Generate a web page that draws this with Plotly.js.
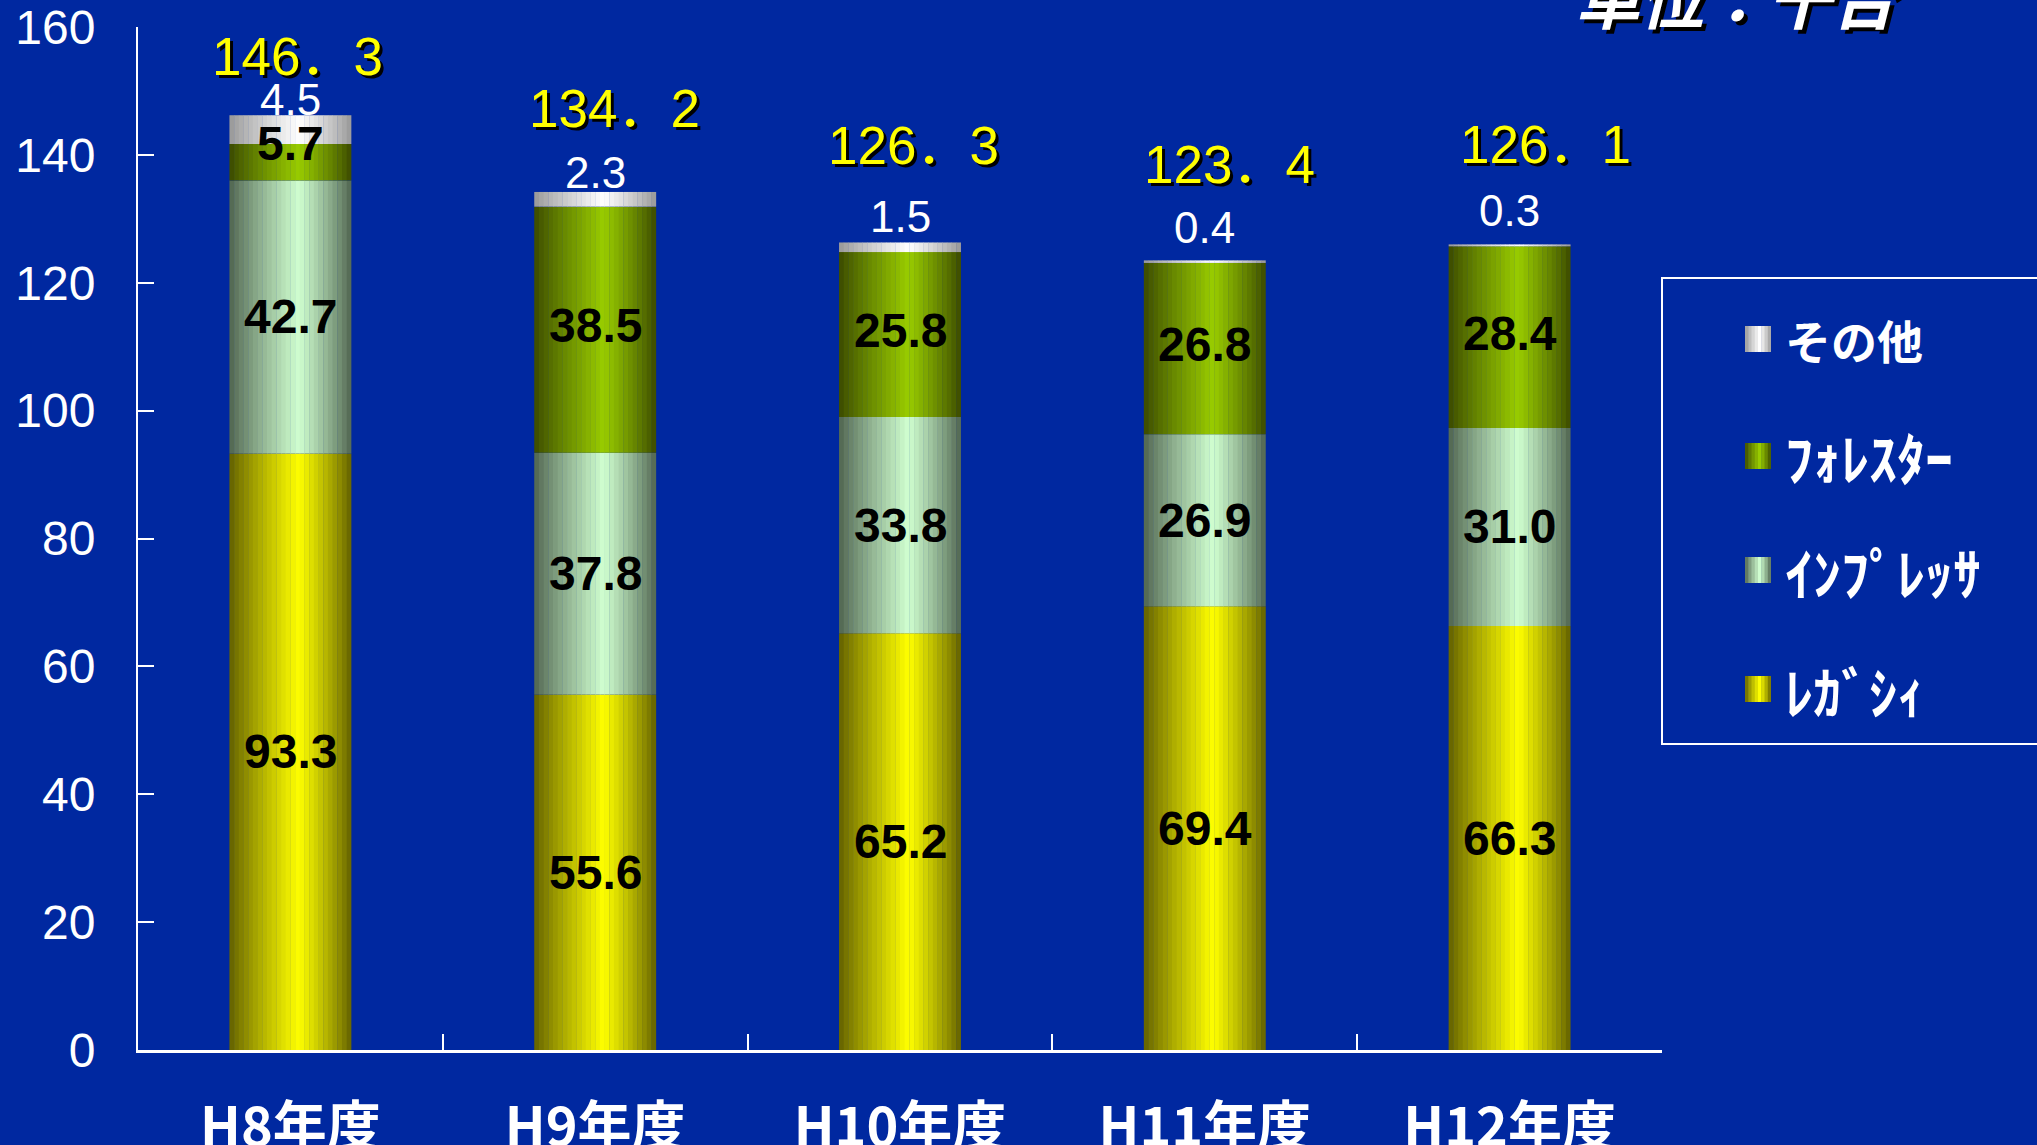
<!DOCTYPE html>
<html>
<head>
<meta charset="utf-8">
<script src="https://cdn.plot.ly/plotly-3.0.1.min.js"></script>
<style>
html,body{margin:0;padding:0;background:#0028A0;overflow:hidden;}
#chart{width:2037px;height:1145px;}
</style>
</head>
<body>
<div id="chart"></div>
<script>
// ---- data ----
const categories = ['H8年度', 'H9年度', 'H10年度', 'H11年度', 'H12年度'];
const legacy   = [93.3, 55.6, 65.2, 69.4, 66.3];
const impreza  = [42.7, 37.8, 33.8, 26.9, 31.0];
const forester = [5.7, 38.5, 25.8, 26.8, 28.4];
const other    = [4.5, 2.3, 1.5, 0.4, 0.3];
const totals   = [146.3, 134.2, 126.3, 123.4, 126.1];
const seriesNames = ['ﾚｶﾞｼｨ', 'ｲﾝﾌﾟﾚｯｻ', 'ﾌｫﾚｽﾀｰ', 'その他'];
const yTickVals = [0, 20, 40, 60, 80, 100, 120, 140, 160];
const unitTitle = '単位：千台';

// ---- styles ----
const BG = '#0028A0';
const gradients = [
  {dark: [96, 94, 0],    peak: [255, 255, 0]},    // legacy
  {dark: [78, 98, 78],   peak: [208, 255, 208]},  // impreza
  {dark: [58, 72, 0],    peak: [153, 204, 0]},    // forester
  {dark: [150, 150, 150],peak: [255, 255, 255]}   // other
];
const series = [legacy, impreza, forester, other];
const BAR_W = 0.4;
const N = 26;

function gradColor(g, x) {
  const p = 0.57;
  let t = x < p ? x / p : (1 - x) / (1 - p);
  t = Math.max(0, Math.min(1, t));
  t = Math.pow(t, 0.85);
  const c = g.dark.map((d, i) => Math.round(d + (g.peak[i] - d) * t));
  return 'rgb(' + c.join(',') + ')';
}

const traces = [];
const bases = categories.map(() => 0);
const segBases = [];
series.forEach((vals, s) => {
  const b = bases.slice();
  segBases.push(b);
  const w = BAR_W / N;
  for (let k = 0; k < N; k++) {
    traces.push({
      type: 'bar',
      x: categories,
      y: vals,
      base: b,
      offset: -BAR_W / 2 + k * w,
      width: k === N - 1 ? w : w * 1.08,
      marker: {color: gradColor(gradients[s], (k + 0.5) / N), line: {width: 0}},
      showlegend: false,
      hoverinfo: 'skip',
      name: seriesNames[s]
    });
  }
  vals.forEach((v, i) => { bases[i] += v; });
});

const annotations = [];
const labelFont = {family: 'Liberation Sans, Arial, sans-serif', size: 48, color: '#000000', weight: 'bold'};
const segShift = [[0,0,0,0,0], [0,0,0,0,0], [19,4,4,4,4]];
for (let s = 0; s < 3; s++) {
  series[s].forEach((v, i) => {
    annotations.push({
      x: categories[i], y: segBases[s][i] + v / 2, xref: 'x', yref: 'y',
      text: v.toFixed(1), showarrow: false, font: labelFont,
      yanchor: 'middle', yshift: segShift[s][i]
    });
  });
}
// "other" labels above the bars
const otherShift = [16, 19, 26, 33, 34];
other.forEach((v, i) => {
  annotations.push({
    x: categories[i], y: segBases[3][i] + v, xref: 'x', yref: 'y',
    text: v.toFixed(1), showarrow: false,
    font: {family: 'Liberation Sans, Arial, sans-serif', size: 44, color: '#ffffff'},
    yanchor: 'middle', yshift: otherShift[i]
  });
});
// totals
const totXShift = [7, 19, 13, 25, 36];
const totYShift = [58, 83, 97, 97, 99];
totals.forEach((v, i) => {
  annotations.push({
    x: categories[i], y: v, xref: 'x', yref: 'y',
    text: v.toFixed(1).replace('.', '．'), showarrow: false,
    font: {family: 'Liberation Sans, Noto Sans CJK JP, sans-serif', size: 53, color: '#ffff00', shadow: '3px 3px 0px #000000'},
    yanchor: 'middle', xshift: totXShift[i], yshift: totYShift[i]
  });
});

// ---- manual legend ----
const PL = 138, PR = 1662, PT = 27, PB = 1050;
const px2x = p => (p - PL) / (PR - PL);
const px2y = p => (PB - p) / (PB - PT);
const shapes = [{
  type: 'rect', xref: 'paper', yref: 'paper',
  x0: px2x(1662), x1: px2x(2120), y0: px2y(744), y1: px2y(278),
  line: {color: '#ffffff', width: 2}, fillcolor: 'rgba(0,0,0,0)'
}];
const legendY = [689, 570, 456, 339]; // per series index (legacy..other)
const legendSize = [56, 56, 56, 46];
const SYM = 8;
series.forEach((vals, s) => {
  const cy = legendY[s];
  const sw = 26 / SYM;
  for (let k = 0; k < SYM; k++) {
    shapes.push({
      type: 'rect', xref: 'paper', yref: 'paper',
      x0: px2x(1745 + k * sw), x1: px2x(1745 + (k + 1) * sw + (k < SYM - 1 ? 0.5 : 0)),
      y0: px2y(cy + 13), y1: px2y(cy - 13),
      line: {width: 0}, fillcolor: gradColor(gradients[s], (k + 0.5) / SYM)
    });
  }
  annotations.push({
    xref: 'paper', yref: 'paper', x: px2x(1783), y: px2y(cy),
    xanchor: 'left', yanchor: 'middle', showarrow: false,
    text: seriesNames[s],
    font: {family: 'Noto Sans CJK JP, sans-serif', size: legendSize[s], color: '#ffffff', weight: 'bold'}
  });
});

const layout = {
  width: 2037, height: 1145,
  paper_bgcolor: BG, plot_bgcolor: BG,
  margin: {l: PL, r: 2037 - PR, t: PT, b: 1145 - PB},
  barmode: 'overlay',
  showlegend: false,
  title: {
    text: unitTitle, xref: 'container', yref: 'container',
    x: 0.852, xanchor: 'center', y: 0.999, yanchor: 'middle',
    font: {family: 'Noto Sans CJK JP, sans-serif', size: 64, color: '#ffffff', weight: 'bold', style: 'italic', shadow: '4px 4px 0px #000000'}
  },
  xaxis: {
    type: 'category', range: [-0.5, 4.5],
    tickson: 'boundaries', ticks: 'inside', ticklen: 16, tickwidth: 2, tickcolor: '#ffffff',
    showline: true, linecolor: '#ffffff', linewidth: 3,
    showgrid: false, zeroline: false,
    tickfont: {family: 'Noto Sans CJK JP, sans-serif', size: 54, color: '#ffffff', weight: 'bold'},
    ticklabelstandoff: 28
  },
  yaxis: {
    range: [0, 160], tickmode: 'array', tickvals: yTickVals,
    ticks: 'inside', ticklen: 16, tickwidth: 2, tickcolor: '#ffffff',
    showline: true, linecolor: '#ffffff', linewidth: 2,
    showgrid: false, zeroline: false,
    tickfont: {family: 'Liberation Sans, Arial, sans-serif', size: 48, color: '#ffffff'},
    ticklabelstandoff: 31
  },
  annotations: annotations,
  shapes: shapes
};

Plotly.newPlot('chart', traces, layout, {displayModeBar: false, staticPlot: true});
</script>
</body>
</html>
